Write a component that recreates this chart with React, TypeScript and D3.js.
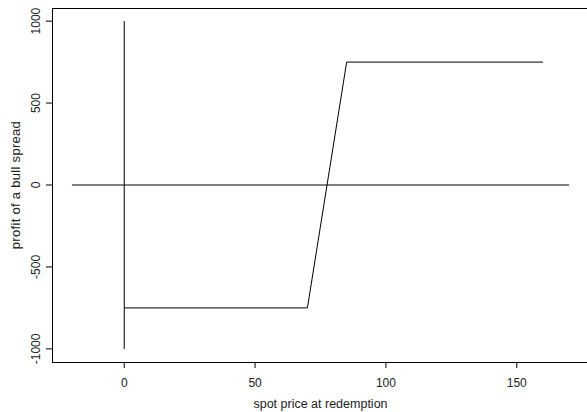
import React from "react";
import * as d3 from "d3";

const profitX = [0, 70, 85, 160];
const profitY = [-750, -750, 750, 750];
const zeroLineX = [-20, 170];
const zeroLineY = [0, 0];
const vertLineX = [0, 0];
const vertLineY = [-1000, 1000];
const xTicks = [0, 50, 100, 150];
const yTicks = [-1000, -500, 0, 500, 1000];
const xTitle = "spot price at redemption";
const yTitle = "profit of a bull spread";

export default function App() {
  const W = 587, H = 412;
  const left = 52, right = 589, top = 8, bottom = 362;
  const x = d3.scaleLinear().domain([-27.6, 177.6]).range([left, right]);
  const y = d3.scaleLinear().domain([-1080, 1080]).range([bottom, top]);
  const line = d3.line<[number, number]>().x(d => x(d[0])).y(d => y(d[1]));
  const pts = (xs: number[], ys: number[]) => xs.map((v, i) => [v, ys[i]] as [number, number]);
  const font = "Liberation Sans, Arial, sans-serif";
  return (
    <svg width={W} height={H} style={{ position: "absolute", left: 0, top: 0, background: "#fff" }}>
      <rect x={left + 0.5} y={top + 0.5} width={right - left} height={bottom - top} fill="none" stroke="#000" strokeWidth={1} />
      <g fill="none" stroke="#000" strokeWidth={1}>
        <path d={line(pts(vertLineX, vertLineY)) || ""} />
        <path d={line(pts(zeroLineX, zeroLineY)) || ""} />
        <path d={line(pts(profitX, profitY)) || ""} />
      </g>
      {xTicks.map(t => (
        <g key={"x" + t}>
          <line x1={x(t)} x2={x(t)} y1={bottom} y2={bottom + 6} stroke="#000" />
          <text x={x(t)} y={387} textAnchor="middle" fontFamily={font} fontSize={12} fill="#222">{t}</text>
        </g>
      ))}
      {yTicks.map(t => (
        <g key={"y" + t}>
          <line x1={left} x2={left - 6} y1={y(t)} y2={y(t)} stroke="#000" />
          <text transform={`translate(${39.5},${y(t)}) rotate(-90)`} textAnchor="middle" fontFamily={font} fontSize={12} fill="#222">{t}</text>
        </g>
      ))}
      <text x={(left + right) / 2} y={408} textAnchor="middle" fontFamily={font} fontSize={12.5} fill="#222">{xTitle}</text>
      <text transform={`translate(${19.5},${y(0)}) rotate(-90)`} textAnchor="middle" fontFamily={font} fontSize={13} letterSpacing={0.3} fill="#222">{yTitle}</text>
    </svg>
  );
}
